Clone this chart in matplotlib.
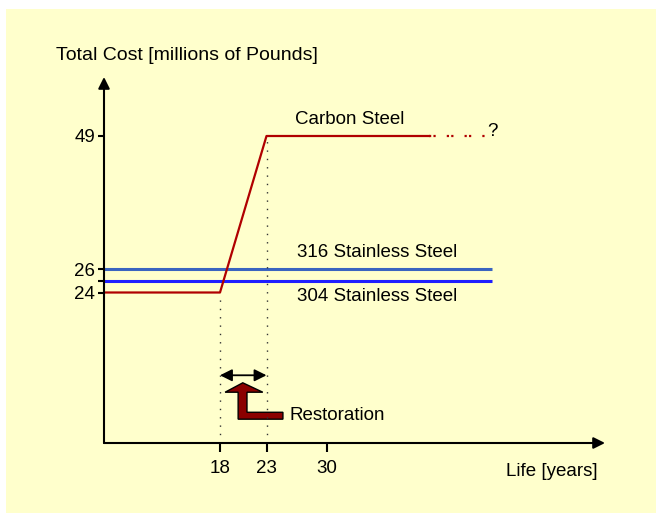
import numpy as np
import matplotlib.pyplot as plt
from matplotlib.patches import Rectangle, Polygon
from matplotlib.scale import FuncScale

# Data (schematic)
carbon_years = [0, 18, 23, 41]
carbon_cost = [24, 24, 49, 49]
carbon_future_years = [41, 47]
carbon_future_cost = [49, 49]
ss316_years = [0, 47.8]
ss316_cost = [26, 26]
ss304_years = [0, 47.8]
ss304_cost = [25, 25]
restoration_window = [18, 23]

x_ticks = [18, 23, 30]
x_tick_labels = ["18", "23", "30"]
y_ticks = [24, 25, 26, 49]
y_tick_labels = ["24", "", "26", "49"]

# The original is a sketch, axes are not linear -> piecewise scales
x_anchor_val = [0, 18, 23, 30, 60]
x_anchor_pos = [0, 116, 162.5, 223, 501]
y_anchor_val = [0, 24, 26, 49, 60]
y_anchor_pos = [0, 150.5, 174, 307, 366]

FONT = ["Liberation Sans", "DejaVu Sans"]
FS = 13.5


def piecewise(vals, pos):
    fwd = lambda v: np.interp(v, vals, pos)
    inv = lambda p: np.interp(p, pos, vals)
    return fwd, inv


def draw():
    plt.rcParams['font.family'] = FONT
    fig = plt.figure(figsize=(6.56, 5.14), dpi=100)
    fig.patch.set_facecolor('white')
    # pale yellow panel behind everything
    fig.patches.append(Rectangle((6 / 656, 1 / 514), 650 / 656, 504 / 514,
                                 transform=fig.transFigure, facecolor='#ffffcc',
                                 edgecolor='none', zorder=-5))

    ax = fig.add_axes([104 / 656, 71 / 514, 501 / 656, 366 / 514])
    ax.set_facecolor('none')
    ax.set_xscale(FuncScale(ax.xaxis, piecewise(x_anchor_val, x_anchor_pos)))
    ax.set_yscale(FuncScale(ax.yaxis, piecewise(y_anchor_val, y_anchor_pos)))
    ax.set_xlim(0, 60)
    ax.set_ylim(0, 60)
    for s in ax.spines.values():
        s.set_visible(False)

    # axes drawn as arrows
    arr = dict(arrowstyle='-|>', lw=1.5, color='black', mutation_scale=17,
               shrinkA=0, shrinkB=0)
    ax.annotate('', xy=(0, 1), xytext=(0, 0), xycoords='axes fraction',
                arrowprops=arr)
    ax.annotate('', xy=(1, 0), xytext=(0, 0), xycoords='axes fraction',
                arrowprops=arr)

    ax.set_xticks(x_ticks)
    ax.set_xticklabels(x_tick_labels)
    ax.set_yticks(y_ticks)
    ax.set_yticklabels(y_tick_labels)
    ax.minorticks_off()
    ax.tick_params(axis='x', direction='out', length=6.5, width=1.5, pad=6,
                   labelsize=FS)
    ax.tick_params(axis='y', direction='out', length=4.5, width=1.5, pad=2,
                   labelsize=FS)

    # cost lines
    ax.plot(ss316_years, ss316_cost, color='#3a64c0', lw=2.2, solid_capstyle='butt')
    ax.plot(ss304_years, ss304_cost, color='#1f1fff', lw=2.2, solid_capstyle='butt')
    ax.plot(carbon_years, carbon_cost, color='#b00000', lw=1.6)
    ax.plot(carbon_future_years, carbon_future_cost, color='#b00000', lw=1.6,
            linestyle=(0, (1, 1, 1, 5)))

    # dotted guides down to the axis
    ax.vlines(carbon_years[1], 0, 23.3, color='#333333', lw=1, linestyle=(0, (1, 5)))
    ax.vlines(carbon_years[2], 0, carbon_cost[2], color='#333333', lw=1,
              linestyle=(0, (1, 5)))

    # restoration window
    ax.annotate('', xy=(restoration_window[1], 10.8),
                xytext=(restoration_window[0], 10.8),
                arrowprops=dict(arrowstyle='<|-|>', color='black', lw=1.3,
                                mutation_scale=18, shrinkA=0, shrinkB=0))
    bent = Polygon([(20.45, 9.6), (22.6, 8.1), (20.9, 8.1), (20.9, 4.9),
                    (24.9, 4.9), (24.9, 3.8), (19.95, 3.8), (19.95, 8.1),
                    (18.55, 8.1)], closed=True, facecolor='#8b0000',
                   edgecolor='black', lw=1)
    ax.add_patch(bent)

    ax.text(25.7, 4.4, "Restoration", fontsize=FS, va='center')
    ax.text(26.3, 52, "Carbon Steel", fontsize=FS, va='center')
    ax.text(26.5, 28.8, "316 Stainless Steel", fontsize=FS, va='center')
    ax.text(26.5, 23.4, "304 Stainless Steel", fontsize=FS, va='center')
    ax.text(47.9, 49.8, "?", fontsize=FS, va='center', ha='center')

    fig.text(56 / 656, 1 - 55 / 514, "Total Cost [millions of Pounds]",
             fontsize=14, va='center')
    fig.text(506 / 656, 1 - 472 / 514, "Life [years]", fontsize=FS, va='center')

    fig.savefig("out.png", dpi=100)


if __name__ == "__main__":
    draw()
